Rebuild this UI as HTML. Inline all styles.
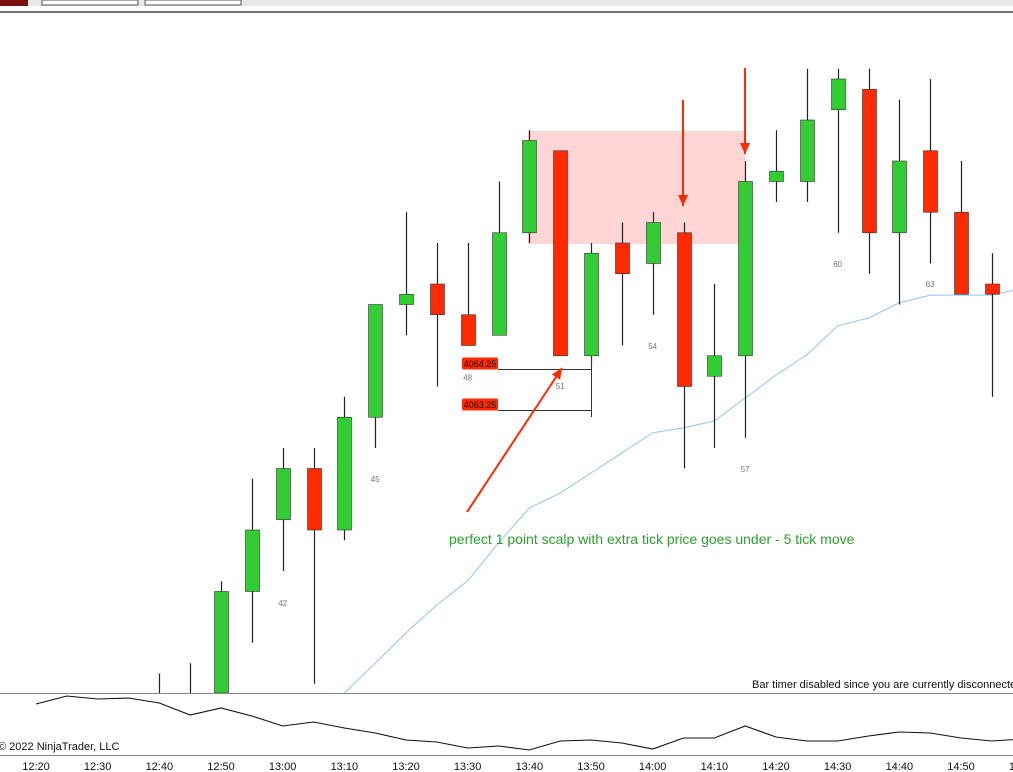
<!DOCTYPE html>
<html><head><meta charset="utf-8">
<style>
html,body{margin:0;padding:0;background:#fff;}
body{width:1013px;height:772px;overflow:hidden;position:relative;font-family:"Liberation Sans",sans-serif;}
svg{position:absolute;left:0;top:0;}
</style></head>
<body>
<svg id="chart" width="1013" height="772" xmlns="http://www.w3.org/2000/svg">
  <g>
    <rect x="0" y="0" width="1013" height="6" fill="#e8e8e8"/>
    <rect x="0" y="0" width="28" height="6" fill="#7a1010"/>
    <rect x="42" y="0" width="96" height="5" fill="#fff" stroke="#555"/>
    <rect x="145" y="0" width="96" height="5" fill="#fff" stroke="#555"/>
    <line x1="0" y1="12" x2="1013" y2="12" stroke="#444" stroke-width="1.5"/>
  </g>
  <rect x="528" y="131" width="217" height="113" fill="#ffb3b3" fill-opacity="0.55"/>
  <g id="ma"></g>
  <g id="candles"></g>
  <g id="ann"></g>
  <line x1="0" y1="693.5" x2="1013" y2="693.5" stroke="#888"/>
  <line x1="0" y1="755.5" x2="1013" y2="755.5" stroke="#888"/>
  <g id="ind"></g>
  <g id="xaxis"></g>
  <text x="752" y="688" font-size="11" fill="#111">Bar timer disabled since you are currently disconnected</text>
  <text x="-2" y="750" font-size="11" fill="#111">© 2022 NinjaTrader, LLC</text>
  <text x="449" y="544" font-size="14" fill="#2ca02c">perfect 1 point scalp with extra tick price goes under - 5 tick move</text>
</svg>
<script>
const times=["12:40","12:45","12:50","12:55","13:00","13:05","13:10","13:15","13:20","13:25","13:30","13:35","13:40","13:45","13:50","13:55","14:00","14:05","14:10","14:15","14:20","14:25","14:30","14:35","14:40","14:45","14:50","14:55"];
const opens =[4056.25,4056.25,4056.25,4058.75,4060.5,4061.75,4060.25,4063.0,4065.75,4066.25,4065.5,4065.0,4067.5,4069.5,4064.5,4067.25,4066.75,4067.5,4064.0,4064.5,4068.75,4068.75,4070.5,4071.0,4067.5,4069.5,4068.0,4066.25];
const highs =[4056.75,4057.0,4059.0,4061.5,4062.25,4062.25,4063.5,4065.75,4068.0,4067.25,4067.25,4068.75,4070.0,4069.5,4067.25,4067.75,4068.0,4067.75,4066.25,4069.25,4070.0,4071.5,4071.5,4071.5,4070.75,4071.25,4069.25,4067.0];
const lows  =[4056.0,4056.0,4056.0,4057.5,4059.25,4056.5,4060.0,4062.25,4065.0,4063.75,4064.75,4065.0,4067.25,4064.5,4064.25,4064.75,4065.5,4061.75,4062.25,4062.5,4068.25,4068.25,4067.5,4066.5,4065.75,4066.75,4066.0,4063.5];
const closes=[4056.25,4056.25,4058.75,4060.25,4061.75,4060.25,4063.0,4065.75,4066.0,4065.5,4064.75,4067.5,4069.75,4064.5,4067.0,4066.5,4067.75,4063.75,4064.5,4068.75,4069.0,4070.25,4071.25,4067.5,4069.25,4068.0,4066.0,4066.0];
const maTimes=["13:10","13:15","13:20","13:25","13:30","13:35","13:40","13:45","13:50","13:55","14:00","14:05","14:10","14:15","14:20","14:25","14:30","14:35","14:40","14:45","14:50","14:55","15:00"];
const maValues=[4056.2,4057.0,4057.74,4058.42,4059.01,4059.93,4060.79,4061.15,4061.64,4062.13,4062.62,4062.74,4062.91,4063.47,4064.03,4064.52,4065.23,4065.42,4065.79,4065.98,4065.98,4065.98,4066.15];
const indTimes=["12:20","12:25","12:30","12:35","12:40","12:45","12:50","12:55","13:00","13:05","13:10","13:15","13:20","13:25","13:30","13:35","13:40","13:45","13:50","13:55","14:00","14:05","14:10","14:15","14:20","14:25","14:30","14:35","14:40","14:45","14:50","14:55","15:00"];
const indValues=[46,54,51,52,47,35,42,34,24,28,22,17,10,8,2,4,0,9,10,7,1,12,12,24,13,9,9,14,18,17,12,9,11];
const xTicks=["12:20","12:30","12:40","12:50","13:00","13:10","13:20","13:30","13:40","13:50","14:00","14:10","14:20","14:30","14:40","14:50","15:00"];
const barNumbers=[{t:"13:00",n:"42",p:4058.4},{t:"13:15",n:"45",p:4061.42},{t:"13:30",n:"48",p:4063.9},{t:"13:45",n:"51",p:4063.69},{t:"14:00",n:"54",p:4064.66},{t:"14:15",n:"57",p:4061.66},{t:"14:30",n:"60",p:4066.66},{t:"14:45",n:"63",p:4066.18}];

const NS="http://www.w3.org/2000/svg";
function mins(t){const a=t.split(":");return +a[0]*60+ +a[1];}
function X(t){return 36+(mins(t)-740)*(925/150);}
function Y(p){return 366-(p-4064.25)*41;}
function YI(v){return 750-v;}
function mk(tag,attrs,parent){const e=document.createElementNS(NS,tag);for(const k in attrs)e.setAttribute(k,attrs[k]);parent.appendChild(e);return e;}

const cg=document.getElementById('candles');
for(let i=0;i<times.length;i++){
  const x=Math.round(X(times[i]))+0.5;
  const yh=Math.min(Y(highs[i]),693), yl=Math.min(Y(lows[i]),693);
  const w=mk('line',{x1:x,x2:x,y1:yh,y2:yl,stroke:'#222','stroke-width':1.2},cg);
  
  
  const up=closes[i]>=opens[i];
  const top=Math.min(Y(opens[i]),Y(closes[i])), bot=Math.min(Math.max(Y(opens[i]),Y(closes[i])),693);
  if(bot-top>0.5){
    const r=mk('rect',{x:x-7,y:top,width:14,height:bot-top,fill:up?'#32cd32':'#ff2a00',stroke:'#333','stroke-width':0.6},cg);
    
    
  }
}
const mg=document.getElementById('ma');
let d="";
for(let i=0;i<maTimes.length;i++){d+=(i?"L":"M")+X(maTimes[i]).toFixed(1)+","+Math.min(Y(maValues[i]),693).toFixed(1);}
const mp=mk('path',{d:d,fill:'none',stroke:'#8fc3f5','stroke-width':1},mg);



const ig=document.getElementById('ind');
d="";
for(let i=0;i<indTimes.length;i++){d+=(i?"L":"M")+X(indTimes[i]).toFixed(1)+","+YI(indValues[i]).toFixed(1);}
const ip=mk('path',{d:d,fill:'none',stroke:'#111','stroke-width':1.1},ig);



const xg=document.getElementById('xaxis');
for(const t of xTicks){
  const tx=mk('text',{x:X(t),y:770,'font-size':11,'text-anchor':'middle',fill:'#111'},xg);
  tx.textContent=t;
  
  
}
const ag=document.getElementById('ann');
for(const b of barNumbers){
  const tx=mk('text',{x:X(b.t),y:Y(b.p),'font-size':8,'text-anchor':'middle',fill:'#777'},ag);
  tx.textContent=b.n;
  
  
}
const tags=[4064.25,4063.25];
for(const p of tags){
  const y=Math.round(Y(p)+3)+0.5;
  const ln=mk('line',{x1:498,x2:591,y1:y,y2:y,stroke:'#333'},ag);
  
  
  const r=mk('rect',{x:462,y:y-12,width:36,height:12,rx:2,fill:'#ff2a00'},ag);
  
  
  const tx=mk('text',{x:480,y:y-2.5,'font-size':9,'text-anchor':'middle',fill:'#111'},ag);
  tx.textContent=p.toFixed(2);
  
  
}
const vl=mk('line',{x1:591.5,x2:591.5,y1:356,y2:417,stroke:'#333'},ag);


function arrow(x1,y1,x2,y2,name){
  const l=mk('line',{x1:x1,y1:y1,x2:x2,y2:y2,stroke:'#ff2a00','stroke-width':2},ag);
  
  
  const a=Math.atan2(y2-y1,x2-x1),L=11,W=5;
  const bx=x2-L*Math.cos(a),by=y2-L*Math.sin(a);
  const pts=[x2,y2,bx+W*Math.sin(a),by-W*Math.cos(a),bx-W*Math.sin(a),by+W*Math.cos(a)].join(",");
  const h=mk('polygon',{points:pts,fill:'#ff2a00'},ag);
  
  
}
arrow(467,512,562,368,'entry-arrow');
arrow(683,100,683,206,'down-arrow-1');
arrow(745,68,745,154,'down-arrow-2');
</script>
</body></html>
